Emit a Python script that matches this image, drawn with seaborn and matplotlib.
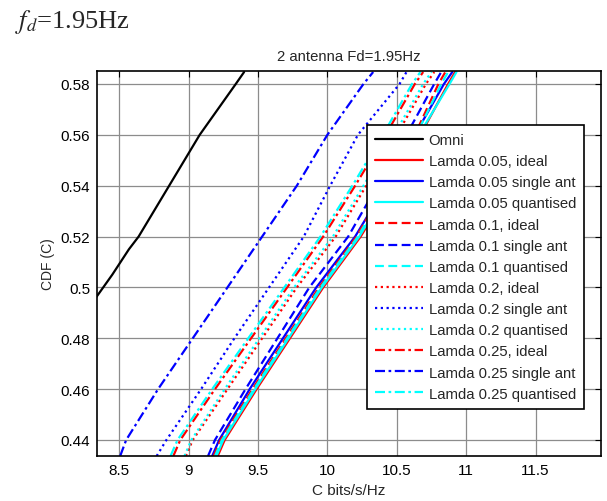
import numpy as np
import pandas as pd
import matplotlib
matplotlib.use("Agg")
import matplotlib.pyplot as plt
import seaborn as sns

# ---------------- data ----------------
labels = ["Omni",
          "Lamda 0.05, ideal", "Lamda 0.05 single ant", "Lamda 0.05 quantised",
          "Lamda 0.1, ideal", "Lamda 0.1 single ant", "Lamda 0.1 quantised",
          "Lamda 0.2, ideal", "Lamda 0.2 single ant", "Lamda 0.2 quantised",
          "Lamda 0.25, ideal", "Lamda 0.25 single ant", "Lamda 0.25 quantised"]

# CDF levels at which capacity values were read
cdf_omni = [0.4935, 0.505, 0.515, 0.52, 0.54, 0.56, 0.58, 0.5847]
cap_omni = [8.30, 8.45, 8.57, 8.64, 8.86, 9.08, 9.34, 9.40]

cdf_levels = [0.4337, 0.44, 0.46, 0.48, 0.50, 0.52, 0.54, 0.56, 0.58, 0.5847]
cap_l005_ideal  = [9.21, 9.26, 9.49, 9.73, 9.97, 10.24, 10.46, 10.67, 10.87, 10.92]
cap_l005_single = [9.17, 9.22, 9.44, 9.68, 9.92, 10.20, 10.42, 10.63, 10.84, 10.90]
cap_l005_quant  = [9.20, 9.25, 9.48, 9.72, 9.96, 10.23, 10.45, 10.66, 10.88, 10.93]
cap_l01_ideal   = [9.18, 9.23, 9.46, 9.70, 9.94, 10.21, 10.42, 10.63, 10.80, 10.85]
cap_l01_single  = [9.14, 9.19, 9.41, 9.64, 9.87, 10.15, 10.36, 10.57, 10.77, 10.82]
cap_l01_quant   = [9.19, 9.24, 9.47, 9.71, 9.95, 10.22, 10.43, 10.64, 10.82, 10.87]
cap_l02_ideal   = [8.98, 9.03, 9.28, 9.53, 9.78, 10.06, 10.28, 10.50, 10.71, 10.77]
cap_l02_single  = [8.77, 8.84, 9.09, 9.33, 9.58, 9.83, 10.02, 10.22, 10.52, 10.57]
cap_l02_quant   = [8.97, 9.02, 9.26, 9.51, 9.76, 10.04, 10.26, 10.48, 10.69, 10.75]
cap_l025_ideal  = [8.89, 8.94, 9.19, 9.45, 9.71, 9.97, 10.20, 10.42, 10.63, 10.69]
cap_l025_single = [8.507, 8.55, 8.78, 9.03, 9.28, 9.53, 9.78, 10.00, 10.26, 10.33]
cap_l025_quant  = [8.87, 8.92, 9.17, 9.43, 9.69, 9.95, 10.18, 10.40, 10.61, 10.67]

x_ticks = [8.5, 9, 9.5, 10, 10.5, 11, 11.5]
x_ticklabels = ["8.5", "9", "9.5", "10", "10.5", "11", "11.5"]
y_ticks = [0.44, 0.46, 0.48, 0.5, 0.52, 0.54, 0.56, 0.58]
y_ticklabels = ["0.44", "0.46", "0.48", "0.5", "0.52", "0.54", "0.56", "0.58"]

# ---------------- styling ----------------
sns.set_theme(style="white")
plt.rcParams["font.family"] = ["Liberation Sans", "DejaVu Sans"]
plt.rcParams["mathtext.fontset"] = "stix"

dot = (0, (1, 1.6))
dashdot = (0, (4.5, 1.6, 1.2, 1.6))
dash = (0, (4, 2))

series = [
    (cdf_omni, cap_omni, "black", "-"),
    (cdf_levels, cap_l005_ideal, "#ff0000", "-"),
    (cdf_levels, cap_l005_single, "#0000ff", "-"),
    (cdf_levels, cap_l005_quant, "#00ffff", "-"),
    (cdf_levels, cap_l01_ideal, "#ff0000", dash),
    (cdf_levels, cap_l01_single, "#0000ff", dash),
    (cdf_levels, cap_l01_quant, "#00ffff", dash),
    (cdf_levels, cap_l02_ideal, "#ff0000", dot),
    (cdf_levels, cap_l02_single, "#0000ff", dot),
    (cdf_levels, cap_l02_quant, "#00ffff", dot),
    (cdf_levels, cap_l025_ideal, "#ff0000", dashdot),
    (cdf_levels, cap_l025_single, "#0000ff", dashdot),
    (cdf_levels, cap_l025_quant, "#00ffff", dashdot),
]

fig = plt.figure(figsize=(6.07, 5.02), dpi=100)
ax = fig.add_axes([0.1598, 0.0896, 0.830, 0.767])

for (cdf, cap, col, ls), lab in zip(series, labels):
    df = pd.DataFrame({"C": cap, "CDF": cdf})
    sns.lineplot(data=df, x="C", y="CDF", ax=ax, color=col, linestyle=ls,
                 linewidth=1.6, label=lab, sort=False, estimator=None)

ax.set_xlim(8.34, 11.97)
ax.set_ylim(0.4337, 0.5851)
ax.set_xticks(x_ticks)
ax.set_xticklabels(x_ticklabels)
ax.set_yticks(y_ticks)
ax.set_yticklabels(y_ticklabels)
ax.grid(True, color="#8c8c8c", linewidth=0.9, linestyle="-")
ax.tick_params(direction="in", top=True, right=True, length=4, width=0.8,
               labelsize=11, colors="black", pad=5)
for s in ax.spines.values():
    s.set_color("black")
    s.set_linewidth(1.2)

ax.set_xlabel("C bits/s/Hz", fontsize=11, labelpad=4)
ax.set_ylabel("CDF (C)", fontsize=10, labelpad=4)
ax.set_title("2 antenna Fd=1.95Hz", fontsize=10.7, pad=8)

leg = ax.legend(loc="upper left", bbox_to_anchor=(0.536, 0.860), borderaxespad=0,
                fontsize=10.7, handlelength=3.2, handletextpad=0.4,
                labelspacing=0.48, borderpad=0.55, frameon=True, fancybox=False,
                framealpha=1)
leg.get_frame().set_edgecolor("black")
leg.get_frame().set_linewidth(1.2)

fig.text(0.024, 0.944, r"$f_d$=1.95Hz", fontsize=19, family="Liberation Serif",
         va="baseline", ha="left")

fig.savefig("out.png", dpi=100)
